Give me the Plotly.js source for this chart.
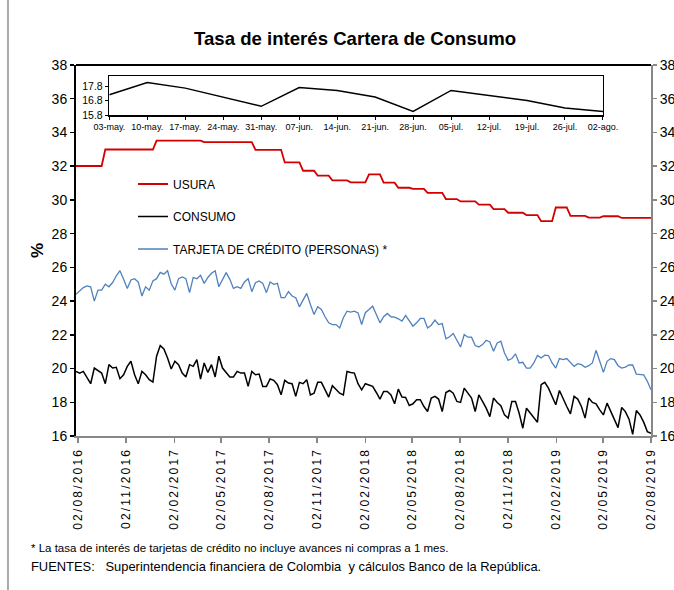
<!DOCTYPE html>
<html>
<head>
<meta charset="utf-8">
<script src="https://cdn.plot.ly/plotly-3.0.1.min.js"></script>
<style>
html,body{margin:0;padding:0;background:#fff;}
#chart{width:674px;height:590px;}
.xtick text{letter-spacing:2.2px;}
</style>
</head>
<body>
<div id="chart"></div>
<script>
// ---- DATA ----
var startDate = '2016-07-29'; // first weekly observation
var nWeeks = 158;

var usura = [
32.01,32.01,32.01,32.01,32.01,32.01,32.01,32.01,
32.99,32.99,32.99,32.99,32.99,32.99,32.99,32.99,32.99,32.99,32.99,32.99,32.99,32.99,
33.52,33.52,33.52,33.52,33.52,33.52,33.52,33.52,33.52,33.52,33.52,33.52,33.52,
33.43,33.43,33.43,33.43,33.43,33.43,33.43,33.43,33.43,33.43,33.43,33.43,33.43,33.43,
32.97,32.97,32.97,32.97,32.97,32.97,32.97,32.97,
32.22,32.22,32.22,32.22,32.22,
31.73,31.73,31.73,31.73,
31.44,31.44,31.44,31.44,
31.16,31.16,31.16,31.16,31.16,
31.04,31.04,31.04,31.04,31.04,
31.52,31.52,31.52,31.52,
31.02,31.02,31.02,31.02,
30.72,30.72,30.72,30.72,
30.66,30.66,30.66,30.66,
30.42,30.42,30.42,30.42,30.42,
30.05,30.05,30.05,30.05,
29.91,29.91,29.91,29.91,29.91,
29.72,29.72,29.72,29.72,
29.45,29.45,29.45,29.45,
29.24,29.24,29.24,29.24,29.24,
29.10,29.10,29.10,29.10,
28.74,28.74,28.74,28.74,
29.55,29.55,29.55,29.55,
29.05,29.05,29.05,29.05,29.05,
28.95,28.95,28.95,28.95,
29.03,29.03,29.03,29.03,29.03,
28.93,28.93,28.93,28.93,28.93,28.93,28.93,28.93,28.93
];

var consumo = [
19.83,19.73,19.83,19.44,19.10,20.03,19.87,19.73,19.10,20.23,20.03,20.07,19.40,19.63,20.13,20.43,19.63,19.10,19.83,19.63,
19.34,19.20,20.73,21.36,21.16,20.63,19.97,20.43,20.23,19.73,19.50,20.23,20.13,20.53,19.38,20.33,19.77,20.23,19.50,20.73,
20.03,19.73,19.50,19.50,19.83,19.73,19.73,18.94,19.83,19.63,19.67,18.94,18.94,19.38,19.30,19.04,18.44,19.30,19.14,19.10,
18.35,19.18,19.10,19.34,18.44,18.54,19.18,19.18,18.70,18.31,18.98,18.78,18.54,18.44,19.83,19.77,19.73,19.10,18.74,
19.10,19.02,18.94,18.58,18.19,18.64,18.64,18.44,17.91,18.78,18.31,18.29,17.81,17.91,18.15,18.15,17.75,17.45,18.25,18.35,
18.19,17.45,18.58,18.70,18.54,18.05,17.99,18.84,18.54,18.25,17.45,18.44,18.05,17.65,17.15,18.25,17.99,17.79,17.25,17.06,
18.05,18.05,17.35,16.46,17.65,17.39,17.06,16.82,19.04,19.18,18.84,18.31,17.85,18.70,18.19,17.75,17.31,18.35,18.19,17.75,
17.06,18.25,17.99,17.91,17.55,17.25,17.95,17.45,16.96,16.50,17.69,17.45,17.00,16.10,17.51,17.25,16.82,16.26,16.16
];

var tarjeta = [
24.40,24.60,24.80,24.90,24.85,24.00,24.65,24.65,25.00,24.85,25.10,25.50,25.80,25.30,24.75,25.25,25.33,25.13,24.30,24.85,
24.65,25.20,25.33,25.70,25.60,25.80,25.03,24.65,25.33,25.43,25.33,24.50,25.40,25.33,25.53,25.05,25.40,25.65,25.80,24.85,
25.29,25.69,25.29,24.75,24.85,24.75,25.13,25.33,24.56,25.09,25.19,25.05,24.50,25.13,24.99,25.05,24.20,24.20,24.56,24.30,
24.20,23.66,24.06,24.46,23.80,23.20,23.66,23.50,23.07,22.71,22.61,22.61,22.41,23.01,23.40,23.35,23.40,23.30,22.61,
23.31,23.50,23.70,23.20,22.71,23.07,23.27,23.07,23.05,22.95,22.81,23.15,22.85,22.51,22.71,22.97,22.97,22.41,22.57,22.87,
22.61,22.67,21.76,21.88,22.08,21.72,21.28,22.02,21.86,21.86,21.36,21.28,21.42,21.68,21.58,21.02,21.52,21.62,20.92,20.49,
20.59,20.87,20.33,20.37,20.03,20.03,20.33,20.77,20.63,20.79,20.77,20.33,20.03,20.59,20.53,20.59,20.33,20.13,20.29,20.23,
20.07,20.17,20.33,21.08,20.43,19.77,20.43,20.59,20.53,20.17,20.03,20.09,20.21,20.21,19.67,19.67,19.63,19.24,18.74
];

// inset: last 14 weeks of CONSUMO
var insetLabels = ['03-may.','10-may.','17-may.','24-may.','31-may.','07-jun.','14-jun.','21-jun.','28-jun.','05-jul.','12-jul.','19-jul.','26-jul.','02-ago.'];
var insetConsumo = [17.20,18.05,17.66,17.04,16.40,17.70,17.50,17.04,16.05,17.50,17.16,16.81,16.28,16.05];

var names = ['USURA','CONSUMO','TARJETA DE CRÉDITO (PERSONAS) *'];
var titleText = 'Tasa de interés Cartera de Consumo';
var note1 = '* La tasa de interés de tarjetas de crédito no incluye avances ni compras a 1 mes.';
var note2 = 'FUENTES:&nbsp;&nbsp;&nbsp;Superintendencia financiera de Colombia&nbsp; y cálculos Banco de la República.';

// ---- BUILD ----
var dates = [];
var t0 = Date.parse(startDate + 'T00:00:00Z');
for (var i = 0; i < nWeeks; i++) {
  dates.push(new Date(t0 + i * 7 * 86400000).toISOString().slice(0, 10));
}

var ARIAL = '"Liberation Sans",Arial,sans-serif';

var W = 674, H = 590, ML = 76, MR = 23.3, MT = 65, MB = 154;
var PW = W - ML - MR, PH = H - MT - MB;
function px(x){ return (x - ML) / PW; }
function py(y){ return (H - MB - y) / PH; }

var traces = [
  {x: dates, y: usura, name: names[0], type: 'scatter', mode: 'lines',
   line: {color: '#d40000', width: 1.8}, legendgroup: 'a'},
  {x: dates, y: consumo, name: names[1], type: 'scatter', mode: 'lines',
   line: {color: '#000000', width: 1.5}, legendgroup: 'b'},
  {x: dates, y: tarjeta, name: names[2], type: 'scatter', mode: 'lines',
   line: {color: '#4f81bd', width: 1.3}, legendgroup: 'c'},
  {x: [dates[0]], y: [null], yaxis: 'y2', showlegend: false, hoverinfo: 'skip', mode: 'lines'},
  {x: insetLabels, y: insetConsumo, xaxis: 'x2', yaxis: 'y3', type: 'scatter', mode: 'lines',
   line: {color: '#000000', width: 1.5}, showlegend: false}
];

var layout = {
  width: W, height: H,
  margin: {l: ML, r: MR, t: MT, b: MB, pad: 0},
  paper_bgcolor: '#ffffff', plot_bgcolor: 'rgba(0,0,0,0)',
  showlegend: true,
  title: {text: titleText, font: {family: ARIAL, size: 18.6, color: '#000', weight: 'bold'},
          x: 355 / W, xanchor: 'center', xref: 'container', y: 1 - 38 / H, yanchor: 'middle'},
  xaxis: {type: 'date', range: [dates[0], dates[dates.length - 1]],
          tick0: '2016-08-02', dtick: 'M3', tickformat: '%d/%m/%Y', tickangle: -90,
          tickfont: {family: ARIAL, size: 12, color: '#000'},
          showline: true, linecolor: '#888888', linewidth: 2,
          ticks: 'outside', ticklen: 5, tickcolor: '#888888', tickwidth: 1.5,
          showgrid: false, zeroline: false, fixedrange: true},
  yaxis: {range: [16, 38], dtick: 2, tick0: 16,
          tickfont: {family: ARIAL, size: 14, color: '#000'},
          showline: true, linecolor: '#000000', linewidth: 2,
          ticks: 'outside', ticklen: 4, tickcolor: '#000', tickwidth: 1.5,
          showgrid: false, zeroline: false,
          title: {text: '%', font: {family: ARIAL, size: 17, color: '#000', weight: 'bold'}, standoff: 4}},
  yaxis2: {overlaying: 'y', side: 'right', range: [16, 38], dtick: 2, tick0: 16,
           tickfont: {family: ARIAL, size: 14, color: '#000'},
           showline: true, linecolor: '#888888', linewidth: 2,
           ticks: 'outside', ticklen: 4, tickcolor: '#888888', tickwidth: 1.5,
           showgrid: false, zeroline: false},
  xaxis2: {type: 'category', anchor: 'y3', domain: [px(109.3), px(602.7)], range: [0, insetLabels.length - 1],
           tickfont: {family: ARIAL, size: 9, color: '#000'}, tickangle: 0,
           showline: true, mirror: true, linecolor: '#000', linewidth: 1.5,
           ticks: 'outside', ticklen: 3, tickcolor: '#000',
           showgrid: false, zeroline: false},
  yaxis3: {anchor: 'x2', domain: [py(115), py(76)], range: [15.8, 18.5], tickvals: [15.8, 16.8, 17.8],
           ticktext: ['15.8', '16.8', '17.8'],
           tickfont: {family: ARIAL, size: 10.5, color: '#000'},
           showline: true, mirror: true, linecolor: '#000', linewidth: 1.5,
           ticks: 'outside', ticklen: 3, tickcolor: '#000',
           showgrid: false, zeroline: false},
  legend: {x: px(133), y: py(169.5), xanchor: 'left', yanchor: 'top', bgcolor: 'rgba(0,0,0,0)',
           font: {family: ARIAL, size: 12, color: '#000'}, tracegroupgap: 13.5, traceorder: 'grouped'},
  shapes: [
    {type: 'line', xref: 'paper', yref: 'paper', x0: 0, x1: 1, y0: 1, y1: 1,
     line: {color: '#000', width: 2}},
    {type: 'line', xref: 'paper', yref: 'paper', x0: px(8), x1: px(8), y0: py(0), y1: py(H),
     line: {color: '#aaaaaa', width: 2}}
  ],
  annotations: [
    {text: note1, xref: 'paper', yref: 'paper', x: px(29), y: py(548), xanchor: 'left', yanchor: 'middle',
     showarrow: false, font: {family: ARIAL, size: 11.5, color: '#000'}},
    {text: note2, xref: 'paper', yref: 'paper', x: px(29), y: py(566), xanchor: 'left', yanchor: 'middle',
     showarrow: false, font: {family: ARIAL, size: 12.9, color: '#000'}}
  ]
};

Plotly.newPlot('chart', traces, layout, {staticPlot: true, displayModeBar: false});
</script>
</body>
</html>
